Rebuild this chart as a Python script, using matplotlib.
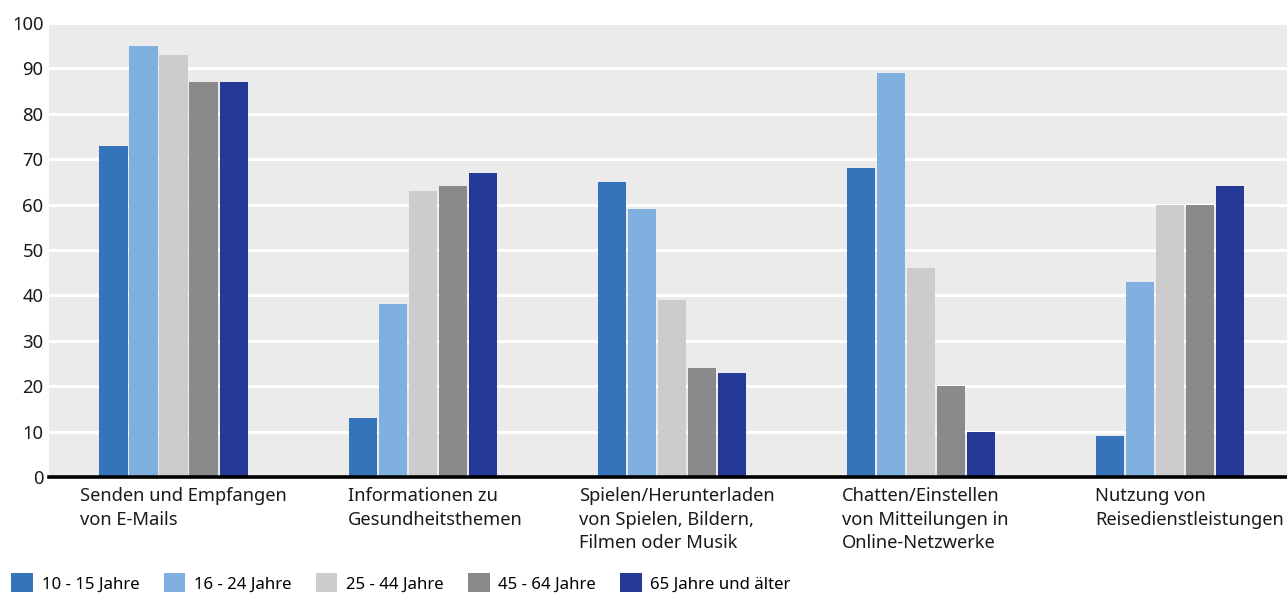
import matplotlib.pyplot as plt
from matplotlib.patches import Patch
import numpy as np

plt.rcParams['font.family'] = ['Noto Sans', 'DejaVu Sans']

# Internetnutzung nach Altersgruppen, Anteil in %
CATEGORIES = ["Senden und Empfangen\nvon E-Mails",
              "Informationen zu\nGesundheitsthemen",
              "Spielen/Herunterladen\nvon Spielen, Bildern,\nFilmen oder Musik",
              "Chatten/Einstellen\nvon Mitteilungen in\nOnline-Netzwerke",
              "Nutzung von\nReisedienstleistungen"]
AGE_GROUPS = ["10 - 15 Jahre", "16 - 24 Jahre", "25 - 44 Jahre", "45 - 64 Jahre", "65 Jahre und älter"]
age_10_15 = [73, 13, 65, 68, 9]
age_16_24 = [95, 38, 59, 89, 43]
age_25_44 = [93, 63, 39, 46, 60]
age_45_64 = [87, 64, 24, 20, 60]
age_65_plus = [87, 67, 23, 10, 64]
COLORS = ["#3574BA", "#80B0E0", "#CCCCCC", "#8A8A8A", "#243A96"]

series = [age_10_15, age_16_24, age_25_44, age_45_64, age_65_plus]
x = np.arange(len(CATEGORIES))
bar_w = 0.113
step = 0.1205

fig = plt.figure(figsize=(12.87, 5.94), dpi=100)
ax = fig.add_axes([49 / 1287, 1 - 477 / 594, 1 - 49 / 1287, 454 / 594])
ax.set_facecolor("#EBEBEB")

for i, (vals, col) in enumerate(zip(series, COLORS)):
    ax.bar(x + (i - 2) * step, vals, width=bar_w, color=col, zorder=3)

ax.set_ylim(0, 100)
ax.set_xlim(-0.5, 4.47)
ax.set_yticks(range(0, 101, 10))
ax.set_yticklabels([str(v) for v in range(0, 101, 10)], fontsize=13.3, color="#1a1a1a")
ax.yaxis.grid(True, color="white", linewidth=2.2, zorder=1)
ax.set_axisbelow(True)
ax.tick_params(axis="y", length=0, pad=4)
ax.set_xticks([])
for s in ax.spines.values():
    s.set_visible(False)
ax.axhline(0, color="black", linewidth=2.6, zorder=4, clip_on=False)

# Kategorienamen unter den Gruppen, Zeilen linksbuendig
label_shift = [0.04, 0.05, 0.02, 0.018, 0.08]
for xi, lab, dx in zip(x, CATEGORIES, label_shift):
    ax.text(xi + dx, -0.022, lab, transform=ax.get_xaxis_transform(),
            ha="center", va="top", multialignment="left", fontsize=13.2, color="#1a1a1a",
            linespacing=1.4)

handles = [Patch(facecolor=c, edgecolor="none") for c in COLORS]
fig.legend(handles, AGE_GROUPS, loc="lower left", bbox_to_anchor=(-0.003, -0.023), ncol=5,
           frameon=False, fontsize=12.1, handlelength=1.3, handleheight=1.35,
           handletextpad=0.5, columnspacing=1.45)

fig.savefig("out.png", dpi=100)
